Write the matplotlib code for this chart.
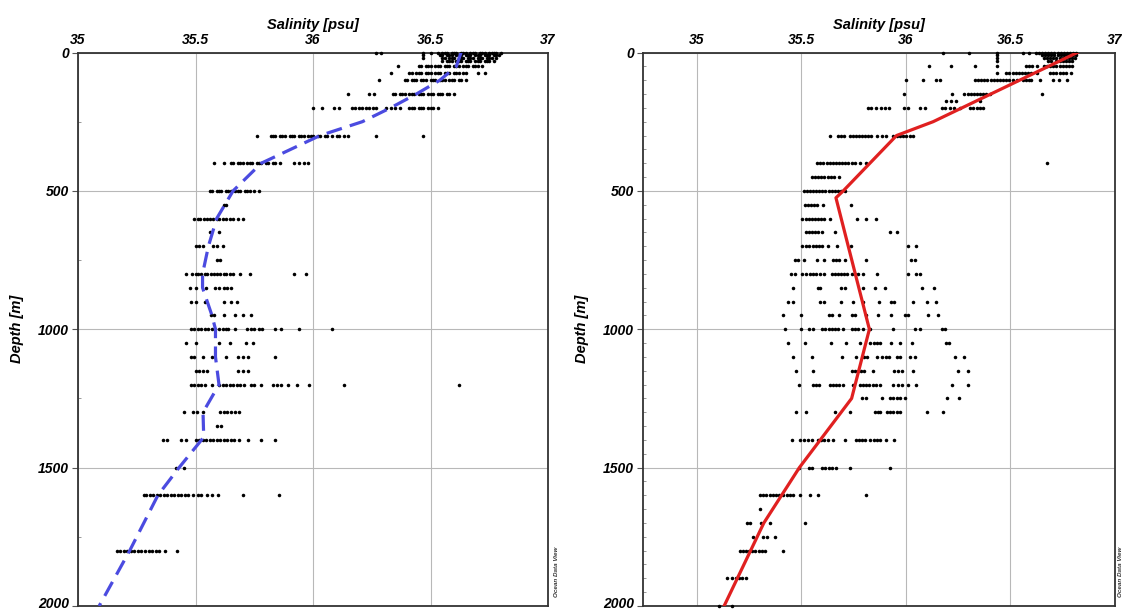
import matplotlib
matplotlib.use("Agg")
import matplotlib.pyplot as plt
from matplotlib.ticker import MultipleLocator
from matplotlib.transforms import ScaledTranslation

# ---------------- data: left panel scatter rows (depth m -> salinity psu) ----------------
L0 = [36.27, 36.29, 36.47, 36.50, 36.53, 36.55, 36.56, 36.57, 36.59, 36.60, 36.61, 36.63, 36.64, 36.65,
      36.67, 36.68, 36.69, 36.71, 36.72, 36.73, 36.75, 36.76, 36.77, 36.78, 36.80]
L10 = [36.47, 36.54, 36.55, 36.57, 36.58, 36.59, 36.61, 36.62, 36.63, 36.65, 36.66, 36.67, 36.69, 36.70,
       36.71, 36.73, 36.74, 36.75, 36.77, 36.78, 36.79]
L20 = [36.47, 36.55, 36.56, 36.58, 36.59, 36.60, 36.62, 36.63, 36.64, 36.66, 36.67, 36.68, 36.70, 36.71,
       36.72, 36.74, 36.75, 36.76, 36.78]
L30 = [36.55, 36.57, 36.58, 36.59, 36.61, 36.62, 36.63, 36.65, 36.66, 36.67, 36.69, 36.70, 36.71, 36.73,
       36.74, 36.75, 36.77]
L50 = [36.36, 36.45, 36.46, 36.48, 36.49, 36.50, 36.52, 36.53, 36.54, 36.56, 36.57, 36.58, 36.60, 36.61,
       36.62, 36.64, 36.65, 36.66, 36.68, 36.69, 36.70, 36.72]
L75 = [36.33, 36.41, 36.42, 36.44, 36.45, 36.46, 36.48, 36.49, 36.50, 36.52, 36.53, 36.54, 36.56, 36.57,
       36.58, 36.60, 36.61, 36.62, 36.64, 36.65, 36.70, 36.73]
L100 = [36.28, 36.39, 36.40, 36.42, 36.43, 36.44, 36.46, 36.47, 36.48, 36.50, 36.51, 36.52, 36.54, 36.55,
        36.56, 36.58, 36.59, 36.60, 36.62, 36.63, 36.65]
L150 = [36.15, 36.24, 36.26, 36.34, 36.35, 36.37, 36.38, 36.39, 36.41, 36.42, 36.43, 36.45, 36.46, 36.47,
        36.49, 36.50, 36.51, 36.53, 36.54, 36.55, 36.57, 36.58, 36.60]
L200 = [36.00, 36.04, 36.09, 36.11, 36.165, 36.18, 36.195, 36.21, 36.225, 36.24, 36.255, 36.27, 36.31,
        36.33, 36.35, 36.37, 36.41, 36.42, 36.43, 36.45, 36.46, 36.47, 36.49, 36.50, 36.51, 36.53]
L300 = [35.76, 35.82, 35.83, 35.84, 35.86, 35.87, 35.88, 35.90, 35.91, 35.92, 35.94, 35.95, 35.96, 35.98,
        35.99, 36.00, 36.02, 36.03, 36.05, 36.06, 36.08, 36.10, 36.11, 36.13, 36.15, 36.27, 36.47]
L400 = [35.58, 35.62, 35.65, 35.66, 35.68, 35.69, 35.70, 35.72, 35.73, 35.74, 35.76, 35.77, 35.78, 35.80,
        35.81, 35.83, 35.84, 35.86, 35.92, 35.94, 35.96, 35.98]
L500 = [35.56, 35.57, 35.59, 35.60, 35.61, 35.63, 35.64, 35.65, 35.67, 35.68, 35.69, 35.71, 35.72, 35.73,
        35.75, 35.77]
L550 = [35.62, 35.63]
L600 = [35.495, 35.51, 35.52, 35.535, 35.55, 35.56, 35.575, 35.59, 35.60, 35.615, 35.63, 35.645, 35.66,
        35.68, 35.70]
L650 = [35.56, 35.60]
L700 = [35.50, 35.515, 35.53, 35.575, 35.59, 35.615]
L750 = [35.59, 35.605]
L800 = [35.46, 35.485, 35.50, 35.51, 35.525, 35.54, 35.55, 35.565, 35.58, 35.59, 35.605, 35.62, 35.63,
        35.645, 35.66, 35.69, 35.73, 35.92, 35.97]
L850 = [35.475, 35.50, 35.545, 35.585, 35.60, 35.62, 35.635, 35.65]
L900 = [35.48, 35.50, 35.54, 35.62, 35.65, 35.675]
L950 = [35.565, 35.58, 35.62, 35.67, 35.70, 35.735]
L1000 = [35.48, 35.495, 35.51, 35.525, 35.54, 35.555, 35.57, 35.585, 35.60, 35.615, 35.63, 35.64, 35.67,
         35.72, 35.735, 35.75, 35.77, 35.785, 35.84, 35.865, 35.94, 36.08]
L1050 = [35.46, 35.50, 35.60, 35.645, 35.715, 35.745]
L1100 = [35.48, 35.495, 35.53, 35.57, 35.63, 35.68, 35.70, 35.725, 35.84]
L1150 = [35.50, 35.515, 35.53, 35.55, 35.68, 35.70, 35.725]
L1200 = [35.48, 35.495, 35.51, 35.525, 35.54, 35.57, 35.60, 35.615, 35.63, 35.645, 35.66, 35.675, 35.69,
         35.705, 35.735, 35.75, 35.78, 35.83, 35.845, 35.865, 35.895, 35.93, 35.985, 36.13, 36.62]
L1300 = [35.45, 35.49, 35.505, 35.53, 35.605, 35.62, 35.635, 35.65, 35.67, 35.685]
L1350 = [35.59, 35.61]
L1400 = [35.36, 35.38, 35.44, 35.46, 35.50, 35.515, 35.53, 35.545, 35.56, 35.575, 35.59, 35.605, 35.62,
         35.635, 35.65, 35.665, 35.685, 35.725, 35.78, 35.84]
L1500 = [35.415, 35.45]
L1600 = [35.28, 35.29, 35.305, 35.32, 35.335, 35.35, 35.365, 35.38, 35.395, 35.41, 35.425, 35.44, 35.455,
         35.47, 35.49, 35.51, 35.525, 35.55, 35.57, 35.595, 35.70, 35.855]
L1800 = [35.165, 35.18, 35.195, 35.21, 35.225, 35.24, 35.255, 35.27, 35.285, 35.30, 35.315, 35.33, 35.345,
         35.37, 35.42]

# ---------------- data: right panel scatter rows ----------------
R0 = [36.175, 36.30, 36.435, 36.56, 36.59, 36.62, 36.635, 36.65, 36.665, 36.68, 36.695, 36.71, 36.725,
      36.74, 36.755, 36.77, 36.785, 36.80, 36.815]
R10 = [36.435, 36.65, 36.665, 36.68, 36.695, 36.71, 36.725, 36.74, 36.755, 36.77, 36.785, 36.80, 36.815]
R20 = [36.435, 36.66, 36.675, 36.69, 36.705, 36.72, 36.735, 36.75, 36.765, 36.78, 36.795, 36.81]
R30 = [36.435, 36.68, 36.695, 36.72, 36.735, 36.75, 36.765, 36.78, 36.795]
R50 = [36.11, 36.215, 36.33, 36.435, 36.575, 36.59, 36.605, 36.625, 36.66, 36.675, 36.69, 36.705, 36.72,
       36.735, 36.75, 36.765, 36.78, 36.795]
R75 = [36.435, 36.48, 36.495, 36.51, 36.525, 36.54, 36.555, 36.57, 36.585, 36.60, 36.625, 36.69, 36.705,
       36.72, 36.735, 36.75, 36.765, 36.79]
R100 = [36.00, 36.08, 36.145, 36.165, 36.33, 36.345, 36.36, 36.375, 36.39, 36.405, 36.42, 36.435, 36.45,
        36.465, 36.48, 36.495, 36.51, 36.53, 36.56, 36.575, 36.59, 36.60, 36.64, 36.705, 36.73, 36.77]
R150 = [35.99, 36.22, 36.28, 36.295, 36.31, 36.325, 36.34, 36.355, 36.37, 36.385, 36.40, 36.65]
R175 = [36.19, 36.215, 36.24, 36.355]
R200 = [35.82, 35.835, 35.855, 35.88, 35.90, 35.92, 35.99, 36.01, 36.065, 36.09, 36.17, 36.185, 36.21,
        36.23, 36.26, 36.305, 36.32, 36.34, 36.355, 36.37]
R300 = [35.635, 35.675, 35.69, 35.705, 35.73, 35.745, 35.76, 35.775, 35.79, 35.805, 35.82, 35.835, 35.86,
        35.885, 35.905, 35.94, 35.955, 35.97, 35.985, 36.00, 36.02, 36.035]
R400 = [35.575, 35.59, 35.605, 35.62, 35.635, 35.65, 35.665, 35.68, 35.695, 35.71, 35.725, 35.74, 35.755,
        35.78, 35.81, 36.675]
R450 = [35.55, 35.565, 35.58, 35.595, 35.61, 35.625, 35.64, 35.655, 35.68]
R500 = [35.51, 35.525, 35.54, 35.555, 35.57, 35.585, 35.60, 35.615, 35.63, 35.645, 35.66, 35.675, 35.69,
        35.71]
R550 = [35.515, 35.53, 35.545, 35.56, 35.575, 35.605, 35.735]
R600 = [35.505, 35.52, 35.535, 35.55, 35.565, 35.58, 35.595, 35.61, 35.635, 35.765, 35.81, 35.855]
R650 = [35.52, 35.535, 35.55, 35.565, 35.58, 35.60, 35.66, 35.925, 35.955]
R700 = [35.505, 35.52, 35.535, 35.555, 35.57, 35.585, 35.60, 35.625, 35.67, 35.735, 36.01, 36.05]
R750 = [35.47, 35.485, 35.51, 35.575, 35.61, 35.65, 35.665, 35.68, 35.71, 35.81, 36.025, 36.045]
R800 = [35.45, 35.47, 35.505, 35.52, 35.54, 35.555, 35.57, 35.59, 35.61, 35.645, 35.66, 35.675, 35.69,
        35.705, 35.72, 35.74, 35.755, 35.77, 35.795, 35.86, 36.01, 36.05, 36.065]
R850 = [35.46, 35.58, 35.59, 35.69, 35.71, 35.795, 35.85, 35.90, 36.075, 36.135]
R900 = [35.435, 35.46, 35.59, 35.61, 35.69, 35.745, 35.795, 35.87, 35.93, 35.945, 36.035, 36.10, 36.145]
R950 = [35.41, 35.50, 35.63, 35.645, 35.68, 35.74, 35.755, 35.81, 35.865, 35.93, 35.995, 36.01, 36.105,
        36.155]
R1000 = [35.42, 35.50, 35.535, 35.555, 35.60, 35.615, 35.63, 35.645, 35.66, 35.675, 35.70, 35.74, 35.755,
         35.77, 35.795, 35.83, 35.94, 36.045, 36.065, 36.17, 36.185]
R1050 = [35.435, 35.515, 35.64, 35.715, 35.78, 35.83, 35.845, 35.86, 35.875, 35.93, 35.97, 36.03, 36.19,
         36.205]
R1100 = [35.46, 35.55, 35.695, 35.76, 35.80, 35.815, 35.86, 35.885, 35.905, 35.92, 35.955, 35.97, 36.02,
         36.045, 36.235, 36.28]
R1150 = [35.475, 35.555, 35.74, 35.755, 35.77, 35.785, 35.80, 35.84, 35.945, 35.96, 35.98, 36.035, 36.25,
         36.295]
R1200 = [35.49, 35.555, 35.57, 35.585, 35.635, 35.65, 35.665, 35.68, 35.70, 35.745, 35.78, 35.795, 35.81,
         35.825, 35.84, 35.855, 35.875, 35.94, 35.96, 35.98, 36.01, 36.05, 36.22, 36.295]
R1250 = [35.79, 35.81, 35.885, 35.925, 35.94, 35.955, 35.97, 35.995, 36.195, 36.255]
R1300 = [35.475, 35.52, 35.66, 35.73, 35.85, 35.865, 35.875, 35.91, 35.925, 35.94, 35.955, 35.97, 36.10,
         36.175]
R1400 = [35.455, 35.495, 35.51, 35.53, 35.55, 35.58, 35.595, 35.61, 35.625, 35.65, 35.71, 35.76, 35.775,
         35.79, 35.805, 35.83, 35.845, 35.86, 35.875, 35.905, 35.945]
R1500 = [35.49, 35.535, 35.55, 35.60, 35.615, 35.63, 35.645, 35.665, 35.73, 35.925]
R1600 = [35.30, 35.315, 35.33, 35.35, 35.365, 35.38, 35.395, 35.41, 35.43, 35.445, 35.46, 35.495, 35.54,
         35.58, 35.81]
R1650 = [35.30]
R1700 = [35.24, 35.255, 35.305, 35.35, 35.515]
R1750 = [35.27, 35.315, 35.335, 35.375]
R1800 = [35.205, 35.22, 35.235, 35.25, 35.265, 35.28, 35.295, 35.31, 35.325, 35.41]
R1900 = [35.145, 35.17, 35.185, 35.20, 35.215, 35.235]
R2000 = [35.105, 35.17]

# ---------------- data: profile lines ----------------
blue_depth = [0, 50, 100, 150, 200, 250, 300, 400, 500, 600, 700, 800, 850, 900, 950, 1000, 1100, 1200,
              1300, 1390, 1500, 1600, 1800, 2000]
blue_sal = [36.63, 36.61, 36.54, 36.44, 36.33, 36.21, 36.03, 35.78, 35.66, 35.59, 35.555, 35.53, 35.53,
            35.55, 35.57, 35.585, 35.585, 35.60, 35.532, 35.535, 35.43, 35.34, 35.22, 35.09]
red_depth = [0, 250, 300, 500, 525, 1000, 1250, 1500, 1600, 1700, 2000]
red_sal = [36.82, 36.13, 35.955, 35.70, 35.665, 35.825, 35.74, 35.49, 35.405, 35.32, 35.13]

sal_ticks = [35, 35.5, 36, 36.5, 37]
sal_labels = ["35", "35.5", "36", "36.5", "37"]
depth_ticks = [0, 500, 1000, 1500, 2000]
depth_labels = ["0", "500", "1000", "1500", "2000"]

left_rows = [(0, L0), (10, L10), (20, L20), (30, L30), (50, L50), (75, L75), (100, L100), (150, L150),
             (200, L200), (300, L300), (400, L400), (500, L500), (550, L550), (600, L600), (650, L650),
             (700, L700), (750, L750), (800, L800), (850, L850), (900, L900), (950, L950), (1000, L1000),
             (1050, L1050), (1100, L1100), (1150, L1150), (1200, L1200), (1300, L1300), (1350, L1350),
             (1400, L1400), (1500, L1500), (1600, L1600), (1800, L1800)]
right_rows = [(0, R0), (10, R10), (20, R20), (30, R30), (50, R50), (75, R75), (100, R100), (150, R150),
              (175, R175), (200, R200), (300, R300), (400, R400), (450, R450), (500, R500), (550, R550),
              (600, R600), (650, R650), (700, R700), (750, R750), (800, R800), (850, R850), (900, R900),
              (950, R950), (1000, R1000), (1050, R1050), (1100, R1100), (1150, R1150), (1200, R1200),
              (1250, R1250), (1300, R1300), (1400, R1400), (1500, R1500), (1600, R1600), (1650, R1650),
              (1700, R1700), (1750, R1750), (1800, R1800), (1900, R1900), (2000, R2000)]

FONT = "Liberation Sans"
W, H = 1124, 612
fig = plt.figure(figsize=(W / 100, H / 100), dpi=100)
fig.patch.set_facecolor("white")

top_px, bot_px = 52.5, 606


def make_axes(x0_px, x1_px, xmin, rows, line_d, line_s, color, dashed, minor_step, odv_x):
    ax = fig.add_axes([x0_px / W, 1 - bot_px / H, (x1_px - x0_px) / W, (bot_px - top_px) / H])
    xs, ys = [], []
    for d, vals in rows:
        for v in vals:
            xs.append(v)
            ys.append(d)
    ax.scatter(xs, ys, s=6.5, c="black", marker="o", linewidths=0, zorder=3, clip_on=False)
    if dashed:
        ax.plot(line_s, line_d, color=color, lw=2.3, dashes=(5, 2.6), zorder=4, solid_capstyle="butt")
    else:
        ax.plot(line_s, line_d, color=color, lw=2.3, zorder=4)
    ax.set_xlim(xmin, 37)
    ax.set_ylim(2000, 0)
    ax.xaxis.tick_top()
    ax.xaxis.set_label_position("top")
    ax.set_xticks(sal_ticks)
    ax.set_xticklabels(sal_labels)
    ax.set_yticks(depth_ticks)
    ax.set_yticklabels(depth_labels)
    ax.yaxis.set_minor_locator(MultipleLocator(minor_step))
    ax.tick_params(axis="x", which="both", length=0, pad=4)
    ax.tick_params(axis="y", which="major", length=4.5, width=0.8, direction="out", color="#555555", pad=2)
    ax.tick_params(axis="y", which="minor", length=2.5, width=0.6, direction="in", color="#888888")
    for lab in ax.get_xticklabels() + ax.get_yticklabels():
        lab.set_fontfamily(FONT)
        lab.set_fontweight("bold")
        lab.set_fontstyle("italic")
        lab.set_fontsize(10)
    last = ax.get_yticklabels()[-1]
    last.set_transform(last.get_transform() + ScaledTranslation(0, 2.5 / 72, fig.dpi_scale_trans))
    ax.grid(True, which="major", color="#b8b8b8", lw=0.8, zorder=0)
    ax.set_axisbelow(True)
    for sp in ax.spines.values():
        sp.set_linewidth(1.3)
        sp.set_color("#333333")
    ax.set_xlabel("Salinity [psu]", fontfamily=FONT, fontweight="bold", fontstyle="italic",
                  fontsize=10.5, labelpad=3)
    ax.set_ylabel("Depth [m]", fontfamily=FONT, fontweight="bold", fontstyle="italic",
                  fontsize=10.5, labelpad=10)
    fig.text(odv_x / W, 1 - 572 / H, "Ocean Data View", rotation=90, ha="center", va="center",
             fontfamily=FONT, fontweight="bold", fontstyle="italic", fontsize=4.5, color="#333333")
    return ax


axL = make_axes(78, 548, 35, left_rows, blue_depth, blue_sal, "#4b4be0", True, 250, 557)
axR = make_axes(643, 1115, 34.742, right_rows, red_depth, red_sal, "#e02020", False, 50, 1120)

fig.savefig("out.png", dpi=100, facecolor="white")
